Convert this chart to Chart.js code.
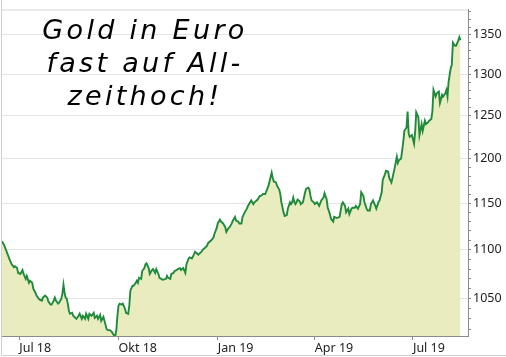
<!DOCTYPE html>
<html>
<head>
<meta charset="utf-8">
<script src="https://cdn.jsdelivr.net/npm/chart.js@4.4.1/dist/chart.umd.min.js"></script>
<style>
  html, body { margin: 0; padding: 0; background: #ffffff; }
  #wrap { position: relative; width: 506px; height: 357px; overflow: hidden; }
  #c { position: absolute; left: 0; top: 0; }
  #note {
    position: absolute; left: 0; top: 13px; width: 290px;
    text-align: center; color: #000;
    font-family: "DejaVu Sans", sans-serif; font-style: oblique; font-weight: normal;
    font-size: 27px; line-height: 33px; letter-spacing: 3.3px;
  }
</style>
</head>
<body>
<div id="wrap">
  <canvas id="c" width="506" height="357"></canvas>
  <div id="note">Gold in Euro<br>fast auf All-<br>zeithoch!</div>
</div>
<script>
// Days counted from 1 July 2018
const days = [-16,-14,-11,-9,-7,-5,-4,-2,-1,1,3,4,6,7,9,10,12,13,15,16,18,19,21,22,24,26,27,29,30,32,33,34,36,37,39,40,41,42,43,44,45,46,47,49,50,52,53,55,56,58,59,61,62,64,65,67,69,70,72,73,75,76,78,79,81,82,84,86,87,89,90,91,92,93,95,96,98,99,101,102,103,105,106,108,109,110,111,113,114,116,117,118,120,121,123,124,126,127,129,130,133,136,137,138,140,141,143,144,146,147,149,150,152,154,155,157,158,160,161,163,164,166,167,169,170,172,174,175,177,178,180,181,183,184,186,187,189,191,192,194,195,197,198,200,201,203,204,206,207,209,211,212,214,215,217,218,220,221,223,224,226,228,229,231,232,234,235,236,238,239,241,242,243,245,246,248,249,251,252,253,254,255,256,257,258,260,261,263,265,266,268,269,270,271,273,274,276,278,280,282,283,285,286,288,289,291,292,294,295,297,299,300,302,303,305,306,308,309,311,312,314,316,317,319,320,322,323,325,326,328,330,331,333,334,336,337,339,340,342,343,345,346,348,350,351,352,354,356,357,359,360,361,362,364,366,367,368,370,371,373,374,376,377,379,380,382,383,384,386,387,389,390,392,393,395,396,397,398,400,401,402,404,405,407,408,409];
// Gold price in EUR per ounce
const prices = [1109,1105,1096,1090,1085,1082,1083,1081,1076,1075,1079,1075,1070,1073,1066,1068,1066,1060,1056,1053,1050,1049,1048,1051,1053,1051,1047,1044,1044,1048,1051,1048,1045,1046,1050,1055,1064,1056,1051,1050,1045,1038,1035,1036,1033,1031,1030,1033,1035,1030,1033,1030,1035,1030,1035,1033,1036,1031,1033,1030,1034,1028,1032,1028,1020,1019,1019,1017,1015,1013,1019,1033,1043,1045,1044,1045,1040,1036,1035,1043,1058,1063,1063,1066,1068,1066,1071,1070,1078,1081,1085,1086,1081,1075,1079,1080,1076,1080,1075,1071,1069,1070,1073,1071,1070,1075,1076,1078,1079,1080,1081,1079,1081,1076,1085,1091,1092,1091,1093,1098,1097,1095,1096,1098,1100,1102,1104,1107,1109,1110,1113,1117,1123,1128,1132,1130,1128,1124,1119,1123,1124,1128,1131,1135,1131,1130,1128,1128,1135,1140,1144,1147,1151,1153,1149,1151,1153,1154,1158,1158,1160,1160,1163,1169,1174,1184,1178,1174,1173,1169,1165,1160,1151,1140,1136,1137,1144,1151,1149,1151,1156,1151,1149,1151,1154,1152,1149,1151,1162,1166,1167,1165,1158,1153,1151,1149,1151,1147,1153,1156,1161,1154,1145,1138,1133,1130,1135,1134,1134,1135,1149,1151,1147,1140,1144,1138,1144,1145,1145,1147,1144,1149,1162,1158,1151,1144,1142,1142,1149,1153,1147,1144,1151,1153,1162,1176,1182,1186,1185,1178,1173,1178,1189,1202,1195,1198,1200,1219,1232,1236,1255,1229,1225,1227,1217,1231,1254,1248,1227,1240,1232,1244,1240,1242,1244,1246,1255,1281,1273,1277,1279,1265,1275,1273,1277,1281,1273,1291,1308,1312,1340,1336,1336,1343,1347,1343];

const monthTickDays = [0, 92, 184, 274, 365];
const monthTickLabels = ['Jul 18', 'Okt 18', 'Jan 19', 'Apr 19', 'Jul 19'];
const priceLabelTicks = [1050, 1100, 1150, 1200, 1250, 1300, 1350];
const priceMinorStep = 10;

const xRange = { min: -16, max: 416 };
const yRange = { min: 1013.3, max: 1383 };

const points = days.map((d, i) => ({ x: d, y: prices[i] }));

const framePlugin = {
  id: 'frame',
  afterDraw(chart) {
    const { ctx, chartArea } = chart;
    ctx.save();
    ctx.lineWidth = 1;
    ctx.strokeStyle = '#d4d4d4';
    ctx.beginPath();
    ctx.moveTo(chartArea.left, chartArea.top + 0.5);
    ctx.lineTo(chartArea.right, chartArea.top + 0.5);
    ctx.stroke();
    ctx.strokeStyle = '#cfcfcf';
    ctx.beginPath();
    ctx.moveTo(1.5, 0);
    ctx.lineTo(1.5, 355.5);
    ctx.lineTo(506, 355.5);
    ctx.stroke();
    ctx.restore();
  }
};

const tickFont = { family: '"Noto Sans", "Open Sans", sans-serif', size: 12.5 };

new Chart(document.getElementById('c'), {
  type: 'line',
  data: {
    datasets: [{
      data: points,
      borderColor: '#1f8a3b',
      backgroundColor: '#e9ecbf',
      borderWidth: 1.9,
      pointRadius: 0,
      tension: 0,
      fill: 'start'
    }]
  },
  options: {
    responsive: false,
    devicePixelRatio: 1,
    animation: false,
    layout: { padding: { left: 2, top: 3, right: 0, bottom: 0 } },
    plugins: { legend: { display: false }, tooltip: { enabled: false } },
    scales: {
      x: {
        type: 'linear',
        position: 'bottom',
        min: xRange.min,
        max: xRange.max,
        afterBuildTicks(scale) {
          scale.ticks = monthTickDays.map(v => ({ value: v }));
        },
        afterFit(scale) { scale.height = 21; },
        ticks: {
          autoSkip: false,
          maxRotation: 0,
          align: 'start',
          padding: 1,
          color: '#222',
          font: tickFont,
          callback(v) {
            const i = monthTickDays.indexOf(v);
            return i >= 0 ? monthTickLabels[i] : '';
          }
        },
        grid: {
          drawOnChartArea: false,
          drawTicks: true,
          tickLength: 4,
          tickColor: '#8a8a8a'
        },
        border: { display: true, color: '#8a8a8a', width: 1 }
      },
      y: {
        type: 'logarithmic',
        position: 'right',
        min: yRange.min,
        max: yRange.max,
        afterBuildTicks(scale) {
          const t = [];
          for (let v = Math.ceil(yRange.min / priceMinorStep) * priceMinorStep; v <= yRange.max; v += priceMinorStep) {
            t.push({ value: v });
          }
          scale.ticks = t;
        },
        afterFit(scale) { scale.width = 38; },
        ticks: {
          autoSkip: false,
          padding: 2,
          color: '#222',
          font: tickFont,
          callback(v) {
            return priceLabelTicks.includes(v) ? String(v) : '';
          }
        },
        grid: {
          drawTicks: true,
          tickLength: 3,
          color(ctx) {
            return ctx.tick && priceLabelTicks.includes(ctx.tick.value) ? '#e4e4e4' : 'rgba(0,0,0,0)';
          },
          tickColor: '#8a8a8a'
        },
        border: { display: true, color: '#8a8a8a', width: 1 }
      }
    }
  },
  plugins: [framePlugin]
});
</script>
</body>
</html>
